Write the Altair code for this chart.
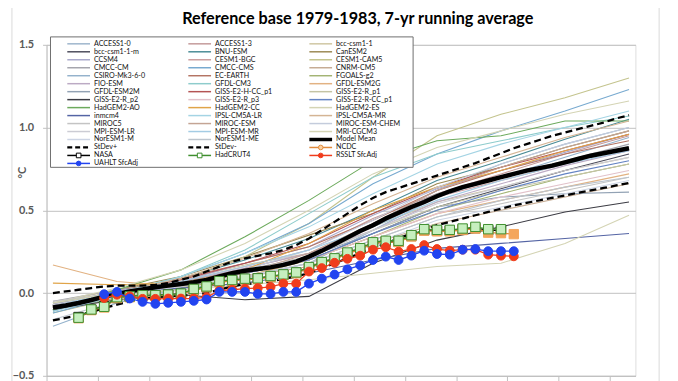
import altair as alt
import pandas as pd

# ---------------- data ----------------
title_text = "Reference base 1979-1983, 7-yr running average"

years = list(range(1975, 2021))
sample_years = [1975, 1980, 1985, 1990, 1995, 2000, 2005, 2010, 2015, 2020]

model_names = [
    "ACCESS1-0", "ACCESS1-3", "bcc-csm1-1", "bcc-csm1-1-m", "BNU-ESM", "CanESM2",
    "CCSM4", "CESM1-BGC", "CESM1-CAM5", "CMCC-CM", "CMCC-CMS", "CNRM-CM5",
    "CSIRO-Mk3-6-0", "EC-EARTH", "FGOALS-g2", "FIO-ESM", "GFDL-CM3", "GFDL-ESM2G",
    "GFDL-ESM2M", "GISS-E2-H-CC_p1", "GISS-E2-R_p1", "GISS-E2-R_p2", "GISS-E2-R_p3",
    "GISS-E2-R-CC_p1", "HadGEM2-AO", "HadGEM2-CC", "HadGEM2-ES", "inmcm4",
    "IPSL-CM5A-LR", "IPSL-CM5A-MR", "MIROC5", "MIROC-ESM", "MIROC-ESM-CHEM",
    "MPI-ESM-LR", "MPI-ESM-MR", "MRI-CGCM3", "NorESM1-M", "NorESM1-ME",
]
model_colors = [
    "#9db5cc", "#c49a9a", "#cfc7a3", "#4d4d5c", "#4a8c96", "#9c8a55",
    "#aaaacc", "#cc9f9f", "#c4c48e", "#a5a5ad", "#78aad0", "#c6ac94",
    "#94b2cc", "#b47464", "#a4b474", "#bcaac4", "#8ecccc", "#e2b282",
    "#92a2b4", "#b45454", "#c4c4a4", "#3c3c44", "#e2c2ca",
    "#6484c4", "#6caa5c", "#e0a448", "#d4d4b4", "#5464a4",
    "#a4d4e4", "#d4b494", "#c4c4c4", "#c4a494", "#c4ccdc",
    "#ccccd4", "#a4cce4", "#d4d4b4", "#ccd4e4", "#bcc4cc",
]
model_values = [
    [-0.10, -0.01, 0.05, 0.12, 0.22, 0.42, 0.62, 0.78, 0.90, 1.00],
    [-0.08, 0.01, 0.07, 0.16, 0.26, 0.45, 0.60, 0.72, 0.84, 0.95],
    [-0.06, 0.02, 0.08, 0.17, 0.24, 0.40, 0.55, 0.64, 0.74, 0.82],
    [-0.07, -0.01, 0.06, 0.12, 0.20, 0.36, 0.52, 0.63, 0.74, 0.84],
    [-0.11, 0.00, 0.09, 0.20, 0.33, 0.50, 0.68, 0.80, 0.93, 1.05],
    [-0.09, 0.02, 0.10, 0.22, 0.35, 0.48, 0.66, 0.76, 0.88, 0.98],
    [-0.10, -0.02, 0.07, 0.18, 0.28, 0.47, 0.63, 0.74, 0.85, 0.96],
    [-0.08, 0.00, 0.06, 0.15, 0.24, 0.40, 0.58, 0.68, 0.78, 0.88],
    [-0.12, -0.03, 0.08, 0.22, 0.42, 0.70, 0.95, 1.08, 1.18, 1.30],
    [-0.05, 0.02, 0.07, 0.14, 0.22, 0.42, 0.60, 0.70, 0.80, 0.90],
    [-0.12, -0.02, 0.10, 0.24, 0.42, 0.66, 0.84, 0.98, 1.10, 1.23],
    [-0.09, 0.00, 0.04, 0.10, 0.16, 0.30, 0.42, 0.50, 0.58, 0.66],
    [-0.20, -0.06, 0.03, 0.10, 0.18, 0.38, 0.58, 0.70, 0.82, 0.94],
    [-0.08, 0.01, 0.09, 0.18, 0.28, 0.44, 0.62, 0.74, 0.84, 0.92],
    [-0.10, -0.03, 0.03, 0.10, 0.20, 0.34, 0.50, 0.60, 0.70, 0.78],
    [-0.07, 0.01, 0.07, 0.15, 0.24, 0.38, 0.55, 0.66, 0.77, 0.86],
    [-0.06, 0.00, 0.10, 0.26, 0.48, 0.70, 0.84, 0.92, 1.00, 1.07],
    [0.17, 0.07, 0.04, 0.10, 0.20, 0.34, 0.48, 0.56, 0.64, 0.72],
    [-0.06, 0.00, 0.05, 0.12, 0.22, 0.36, 0.52, 0.58, 0.60, 0.61],
    [-0.09, 0.00, 0.08, 0.18, 0.30, 0.48, 0.64, 0.76, 0.86, 0.96],
    [-0.07, 0.01, 0.06, 0.13, 0.22, 0.38, 0.52, 0.62, 0.70, 0.78],
    [-0.10, -0.04, -0.01, -0.04, -0.02, 0.18, 0.32, 0.40, 0.49, 0.55],
    [-0.08, 0.00, 0.05, 0.12, 0.20, 0.34, 0.48, 0.58, 0.66, 0.74],
    [-0.09, -0.01, 0.05, 0.12, 0.20, 0.36, 0.50, 0.62, 0.72, 0.80],
    [-0.10, 0.02, 0.14, 0.34, 0.56, 0.80, 0.92, 0.95, 1.04, 1.04],
    [0.06, 0.05, 0.06, 0.14, 0.30, 0.50, 0.64, 0.74, 0.86, 0.96],
    [-0.06, 0.03, 0.14, 0.30, 0.50, 0.72, 0.88, 0.98, 1.08, 1.16],
    [-0.07, 0.00, 0.03, 0.06, 0.12, 0.20, 0.27, 0.30, 0.33, 0.36],
    [-0.11, -0.02, 0.10, 0.24, 0.40, 0.60, 0.78, 0.90, 1.00, 1.10],
    [-0.09, 0.00, 0.09, 0.21, 0.36, 0.54, 0.70, 0.82, 0.94, 1.04],
    [-0.05, 0.00, 0.05, 0.10, 0.18, 0.32, 0.46, 0.54, 0.62, 0.70],
    [-0.08, 0.01, 0.04, 0.12, 0.24, 0.42, 0.62, 0.76, 0.88, 0.98],
    [-0.09, -0.01, 0.05, 0.14, 0.26, 0.44, 0.64, 0.78, 0.90, 1.00],
    [-0.07, 0.00, 0.06, 0.13, 0.22, 0.38, 0.54, 0.64, 0.74, 0.82],
    [-0.08, 0.01, 0.07, 0.16, 0.26, 0.40, 0.56, 0.68, 0.78, 0.86],
    [-0.06, 0.00, 0.02, 0.05, 0.08, 0.12, 0.16, 0.18, 0.30, 0.47],
    [-0.08, -0.01, 0.04, 0.10, 0.18, 0.30, 0.44, 0.52, 0.60, 0.68],
    [-0.16, -0.05, 0.02, 0.09, 0.18, 0.32, 0.46, 0.56, 0.64, 0.70],
]

model_mean = [
    -0.087, -0.075, -0.06, -0.042, -0.022, -0.005, 0.01, 0.022, 0.035, 0.045,
    0.055, 0.065, 0.08, 0.10, 0.12, 0.135, 0.145, 0.155, 0.17, 0.19,
    0.22, 0.255, 0.295, 0.335, 0.375, 0.41, 0.45, 0.485, 0.52, 0.55,
    0.585, 0.615, 0.64, 0.66, 0.68, 0.70, 0.72, 0.74, 0.755, 0.77,
    0.79, 0.81, 0.83, 0.845, 0.86, 0.875,
]
stdev_plus = [
    0.0, 0.01, 0.02, 0.03, 0.04, 0.045, 0.045, 0.045, 0.05, 0.06,
    0.08, 0.10, 0.13, 0.16, 0.19, 0.21, 0.225, 0.24, 0.26, 0.29,
    0.33, 0.38, 0.43, 0.48, 0.53, 0.575, 0.61, 0.635, 0.66, 0.685,
    0.71, 0.735, 0.76, 0.785, 0.815, 0.845, 0.875, 0.90, 0.925, 0.95,
    0.97, 0.99, 1.01, 1.03, 1.055, 1.075,
]
stdev_minus = [
    -0.165, -0.15, -0.135, -0.115, -0.09, -0.07, -0.05, -0.035, -0.025, -0.02,
    -0.015, -0.01, 0.0, 0.02, 0.04, 0.055, 0.06, 0.07, 0.085, 0.10,
    0.12, 0.15, 0.18, 0.21, 0.24, 0.27, 0.30, 0.33, 0.36, 0.385,
    0.41, 0.43, 0.45, 0.47, 0.49, 0.51, 0.53, 0.545, 0.56, 0.575,
    0.59, 0.605, 0.62, 0.635, 0.65, 0.665,
]

hadcrut_years = list(range(1977, 2011))
hadcrut4 = [
    -0.149, -0.099, -0.083, -0.025, -0.02, -0.013, -0.013, -0.009, -0.003, 0.025,
    0.04, 0.072, 0.079, 0.087, 0.089, 0.103, 0.113, 0.125, 0.157, 0.187,
    0.21, 0.245, 0.271, 0.307, 0.316, 0.316, 0.35, 0.386, 0.382, 0.382,
    0.39, 0.40, 0.386, 0.386,
]
nasa_years = list(range(1977, 2011))
nasa = [
    -0.145, -0.1, -0.08, -0.03, -0.022, -0.015, -0.012, -0.01, -0.005, 0.02,
    0.035, 0.07, 0.075, 0.085, 0.09, 0.1, 0.11, 0.122, 0.152, 0.182,
    0.205, 0.24, 0.265, 0.3, 0.31, 0.31, 0.345, 0.38, 0.376, 0.377,
    0.385, 0.392, 0.38, 0.378,
]
ncdc_years = list(range(1977, 2012))
ncdc = [
    -0.152, -0.103, -0.087, -0.03, -0.025, -0.018, -0.017, -0.013, -0.008, 0.02,
    0.035, 0.066, 0.073, 0.082, 0.085, 0.097, 0.108, 0.12, 0.15, 0.18,
    0.204, 0.238, 0.264, 0.3, 0.309, 0.308, 0.342, 0.377, 0.373, 0.373,
    0.381, 0.39, 0.365, 0.362, 0.356,
]
sat_years = list(range(1979, 2012))
uahlt = [
    -0.007, 0.007, -0.033, -0.053, -0.065, -0.059, -0.053, -0.047, -0.039, 0.007,
    0.007, 0.007, -0.005, -0.005, 0.007, 0.007, 0.057, 0.087, 0.112, 0.143,
    0.167, 0.20, 0.22, 0.20, 0.226, 0.256, 0.236, 0.232, 0.262, 0.266,
    0.253, 0.253, 0.253,
]
rsslt = [
    -0.03, -0.01, -0.02, -0.035, -0.035, -0.033, -0.033, -0.033, -0.025, 0.015,
    0.02, 0.027, 0.03, 0.037, 0.057, 0.057, 0.13, 0.151, 0.183, 0.207,
    0.226, 0.262, 0.277, 0.25, 0.266, 0.29, 0.266, 0.256, 0.262, 0.262,
    0.232, 0.226, 0.222,
]

y_ticks = [-0.5, 0.0, 0.5, 1.0, 1.5]

legend_order = [
    "ACCESS1-0", "ACCESS1-3", "bcc-csm1-1",
    "bcc-csm1-1-m", "BNU-ESM", "CanESM2",
    "CCSM4", "CESM1-BGC", "CESM1-CAM5",
    "CMCC-CM", "CMCC-CMS", "CNRM-CM5",
    "CSIRO-Mk3-6-0", "EC-EARTH", "FGOALS-g2",
    "FIO-ESM", "GFDL-CM3", "GFDL-ESM2G",
    "GFDL-ESM2M", "GISS-E2-H-CC_p1", "GISS-E2-R_p1",
    "GISS-E2-R_p2", "GISS-E2-R_p3", "GISS-E2-R-CC_p1",
    "HadGEM2-AO", "HadGEM2-CC", "HadGEM2-ES",
    "inmcm4", "IPSL-CM5A-LR", "IPSL-CM5A-MR",
    "MIROC5", "MIROC-ESM", "MIROC-ESM-CHEM",
    "MPI-ESM-LR", "MPI-ESM-MR", "MRI-CGCM3",
    "NorESM1-M", "NorESM1-ME", "Model Mean",
    "StDev+", "StDev-", "NCDC",
    "NASA", "HadCRUT4", "RSSLT SfcAdj",
    "UAHLT SfcAdj",
]

# ---------------- styles ----------------
C_HAD_LINE, C_HAD_FILL = "#3f8f2f", "#c6efbf"
C_UAH = "#2244f0"
C_RSS = "#f03c1c"
C_NCDC_LINE, C_NCDC_FILL = "#e08a3c", "#f4a65c"
FONT = "Lato"
GRID = "#bfbfbf"

# ---------------- tables ----------------
mrows = []
for name, vals in zip(model_names, model_values):
    for yr, v in zip(sample_years, vals):
        mrows.append({"model": name, "year": yr, "value": v})
models_df = pd.DataFrame(mrows)

ens_df = pd.DataFrame({"year": years, "mean": model_mean, "sdp": stdev_plus, "sdm": stdev_minus})
had_df = pd.DataFrame({"year": hadcrut_years, "value": hadcrut4})
nasa_df = pd.DataFrame({"year": nasa_years, "value": nasa})
ncdc_df = pd.DataFrame({"year": ncdc_years, "value": ncdc})
uah_df = pd.DataFrame({"year": sat_years, "value": uahlt})
rss_df = pd.DataFrame({"year": sat_years, "value": rsslt})

color_of = dict(zip(model_names, model_colors))
color_of.update({"Model Mean": "#000000", "StDev+": "#000000", "StDev-": "#000000",
                 "NCDC": C_NCDC_LINE, "NASA": "#000000", "HadCRUT4": C_HAD_LINE,
                 "RSSLT SfcAdj": C_RSS, "UAHLT SfcAdj": C_UAH})
kind_of = {"Model Mean": "mean", "StDev+": "dash", "StDev-": "dash"}
marker = {
    "NCDC": ("circle", "#fbd0a0", C_NCDC_LINE),
    "NASA": ("square", "#ffffff", "#000000"),
    "HadCRUT4": ("square", "#ffffff", C_HAD_LINE),
    "RSSLT SfcAdj": ("circle", C_RSS, C_RSS),
    "UAHLT SfcAdj": ("circle", C_UAH, C_UAH),
}
lrows = []
for i, name in enumerate(legend_order):
    mk = marker.get(name)
    lrows.append({
        "name": name, "row": i // 3, "col": i % 3, "color": color_of[name],
        "kind": kind_of.get(name, "line"),
        "has_marker": mk is not None,
        "shape": mk[0] if mk else "circle",
        "mfill": mk[1] if mk else "#ffffff",
        "mstroke": mk[2] if mk else "#ffffff",
    })
legend_df = pd.DataFrame(lrows)

# ---------------- scales ----------------
W, H = 596, 335
xscale = alt.Scale(domain=[1974.5, 2020.5], nice=False, zero=False)
yscale = alt.Scale(domain=[-0.5, 1.5], nice=False, zero=False)
x_ticks = [1974.5 + k for k in range(47)]

X = alt.X("year:Q", scale=xscale,
          axis=alt.Axis(values=x_ticks, labels=False, grid=False, title=None,
                        tickSize=6, tickColor=GRID, domainColor=GRID))
Y = alt.Y("value:Q", scale=yscale,
          axis=alt.Axis(values=y_ticks, format=".1f", grid=True, gridColor=GRID,
                        domainColor=GRID, tickColor=GRID, tickSize=4, labelPadding=9,
                        labelFont=FONT, labelFontSize=11, labelFontWeight="bold",
                        labelColor="#595959", title="°C", titleFont=FONT,
                        titleFontSize=11, titleFontWeight="bold", titleColor="#595959",
                        titleX=-19, titleY=129, titleAngle=-90))

one = pd.DataFrame({"a": [0]})

frame = alt.Chart(one).mark_rule(color="#d9d9d9", strokeWidth=1).encode(
    x=alt.value(-35), y=alt.value(-60), y2=alt.value(400))
frame2 = alt.Chart(one).mark_rule(color="#d9d9d9", strokeWidth=1).encode(
    x=alt.value(620), y=alt.value(-60), y2=alt.value(400))

model_lines = alt.Chart(models_df).mark_line(strokeWidth=1.1).encode(
    x=X, y=Y,
    color=alt.Color("model:N", scale=alt.Scale(domain=model_names, range=model_colors), legend=None),
    detail="model:N",
)

sdp_line = alt.Chart(ens_df).mark_line(color="#000000", strokeWidth=2.3, strokeDash=[7, 4]).encode(
    x="year:Q", y="sdp:Q")
sdm_line = alt.Chart(ens_df).mark_line(color="#000000", strokeWidth=2.3, strokeDash=[7, 4]).encode(
    x="year:Q", y="sdm:Q")
mean_line = alt.Chart(ens_df).mark_line(color="#000000", strokeWidth=4.5).encode(
    x="year:Q", y="mean:Q")


def obs_layers(df, line_color, shape, fill, stroke, size):
    base = alt.Chart(df)
    ln = base.mark_line(color=line_color, strokeWidth=1.3).encode(x="year:Q", y="value:Q")
    pt = base.mark_point(shape=shape, filled=True, fill=fill, stroke=stroke,
                         strokeWidth=1, size=size, opacity=1).encode(x="year:Q", y="value:Q")
    return [ln, pt]


nasa_l = obs_layers(nasa_df, "#000000", "square", "#ffffff", "#000000", 90)
ncdc_l = obs_layers(ncdc_df, C_NCDC_LINE, "square", C_NCDC_FILL, C_NCDC_FILL, 90)
had_l = obs_layers(had_df, C_HAD_LINE, "square", C_HAD_FILL, C_HAD_LINE, 90)
rss_l = obs_layers(rss_df, C_RSS, "circle", C_RSS, C_RSS, 80)
uah_l = obs_layers(uah_df, C_UAH, "circle", C_UAH, C_UAH, 80)

# ---------------- legend (drawn inside the plot, top-left) ----------------
legend_box = alt.Chart(one).mark_rect(fill="#ffffff", stroke="#6e6e6e", strokeWidth=1).encode(
    x=alt.value(4), x2=alt.value(371), y=alt.value(-8), y2=alt.value(124))

lbase = alt.Chart(legend_df).transform_calculate(
    lx1="21 + datum.col * 122.5",
    lx2="21 + datum.col * 122.5 + 23",
    mx="21 + datum.col * 122.5 + 11.5",
    tx="21 + datum.col * 122.5 + 27",
    ly="-1 + datum.row * 8.07",
)
LX1 = alt.X("lx1:Q", scale=None)
LX2 = alt.X2("lx2:Q")
LY = alt.Y("ly:Q", scale=None)
LC = alt.Color("color:N", scale=None, legend=None)

leg_lines = lbase.transform_filter("datum.kind == 'line'").mark_rule(strokeWidth=1.5).encode(
    x=LX1, x2=LX2, y=LY, color=LC)
leg_mean = lbase.transform_filter("datum.kind == 'mean'").mark_rule(strokeWidth=3.5, color="#000").encode(
    x=LX1, x2=LX2, y=LY)
leg_dash = lbase.transform_filter("datum.kind == 'dash'").mark_rule(strokeWidth=2.3, color="#000",
                                                                   strokeDash=[5, 3]).encode(
    x=LX1, x2=LX2, y=LY)
leg_marks = lbase.transform_filter("datum.has_marker").mark_point(filled=True, size=22, strokeWidth=1,
                                                                  opacity=1).encode(
    x=alt.X("mx:Q", scale=None), y=LY,
    shape=alt.Shape("shape:N", scale=None),
    fill=alt.Fill("mfill:N", scale=None, legend=None),
    stroke=alt.Stroke("mstroke:N", scale=None, legend=None),
)
leg_text = lbase.mark_text(align="left", baseline="middle", font=FONT, fontSize=7.2,
                           color="#111111").encode(
    x=alt.X("tx:Q", scale=None), y=LY, text="name:N")

title_mark = alt.Chart(one).mark_text(font=FONT, fontSize=16.4, fontWeight="bold", color="#000000",
                                      align="center", baseline="middle").encode(
    x=alt.value(315), y=alt.value(-26.5), text=alt.value(title_text))

layers = [frame, frame2, model_lines, sdp_line, sdm_line, mean_line]
layers += nasa_l + ncdc_l + had_l + rss_l + uah_l
layers += [legend_box, leg_lines, leg_mean, leg_dash, leg_marks, leg_text, title_mark]

chart = alt.layer(*layers).properties(
    width=W, height=H,
    autosize=alt.AutoSizeParams(type="none"),
    padding={"left": 39, "top": 35, "right": 35, "bottom": 3},
).configure_view(stroke=None).configure(background="#ffffff")

chart.save("out.html", embed_options={"renderer": "svg", "actions": False})
